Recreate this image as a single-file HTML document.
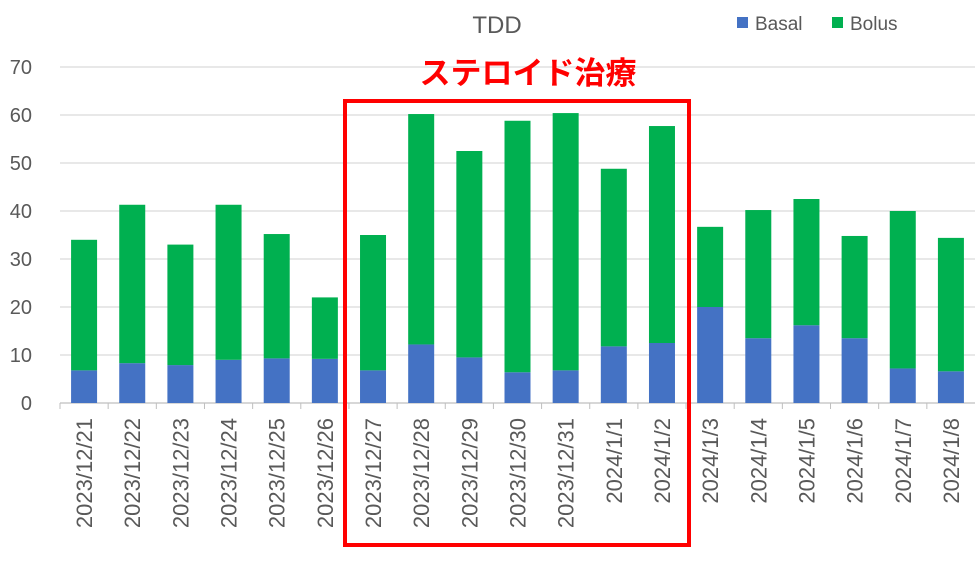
<!DOCTYPE html>
<html><head><meta charset="utf-8"><style>
body{margin:0;background:#fff;}
svg{display:block;font-family:"Liberation Sans","Noto Sans CJK JP",sans-serif;}
</style></head><body>
<svg id="chart" width="975" height="561">
<text x="497" y="33" font-size="24" fill="#595959" text-anchor="middle">TDD</text>
<g>
<rect x="737" y="17" width="11" height="11" fill="#4472c4"/>
<text x="755" y="30" font-size="19" fill="#595959">Basal</text>
<rect x="832" y="17" width="11" height="11" fill="#00b050"/>
<text x="850" y="30" font-size="19" fill="#595959">Bolus</text>
</g>
<g id="grid"></g><g id="bars"></g><g id="xl"></g>
<rect x="345" y="101" width="344" height="444" fill="none" stroke="#ff0000" stroke-width="4"/>
<text x="528" y="84" font-size="31" font-weight="bold" fill="#ff0000" text-anchor="middle">ステロイド治療</text>
</svg>
<script>
const categories=["2023/12/21","2023/12/22","2023/12/23","2023/12/24","2023/12/25","2023/12/26","2023/12/27","2023/12/28","2023/12/29","2023/12/30","2023/12/31","2024/1/1","2024/1/2","2024/1/3","2024/1/4","2024/1/5","2024/1/6","2024/1/7","2024/1/8"];
const basal=[6.8,8.3,7.9,9,9.3,9.2,6.8,12.2,9.5,6.4,6.8,11.8,12.5,20,13.5,16.2,13.5,7.2,6.6];
const total=[34,41.3,33,41.3,35.2,22,35,60.2,52.5,58.8,60.4,48.8,57.7,36.7,40.2,42.5,34.8,40,34.4];
const bolus=total.map((t,i)=>t-basal[i]);
const ticks=[0,10,20,30,40,50,60,70];
const NS="http://www.w3.org/2000/svg";
const x0=60,x1=975,y0=403,yTop=67;
const y=v=>y0-(y0-yTop)*v/70;
const step=(x1-x0)/categories.length;
const xc=i=>x0+step*(i+0.5);
function mk(t,a,p){const e=document.createElementNS(NS,t);for(const k in a)e.setAttribute(k,a[k]);p.appendChild(e);return e;}
const g=document.getElementById('grid');
ticks.forEach(t=>{
 const l=mk('line',{x1:x0,x2:x1,y1:y(t),y2:y(t),stroke:t===0?'#bfbfbf':'#d9d9d9','stroke-width':1.3},g);
 
 
 const tx=mk('text',{x:32,y:y(t)+7,'font-size':20,fill:'#595959','text-anchor':'end'},g);
 tx.textContent=t;
 
 
});
const b=document.getElementById('bars'),xl=document.getElementById('xl');
const bw=26;
categories.forEach((c,i)=>{
 const r1=mk('rect',{x:xc(i)-bw/2,y:y(basal[i]),width:bw,height:y0-y(basal[i]),fill:'#4472c4'},b);
 
 
 const r2=mk('rect',{x:xc(i)-bw/2,y:y(basal[i]+bolus[i]),width:bw,height:y(basal[i])-y(basal[i]+bolus[i]),fill:'#00b050'},b);
 
 
 const tk=mk('line',{x1:x0+step*i,x2:x0+step*i,y1:y0,y2:y0+6,stroke:'#bfbfbf'},xl);
 
 
 const t=mk('text',{x:0,y:0,'font-size':22,fill:'#595959','text-anchor':'end',transform:`translate(${xc(i)+8},${y0+15}) rotate(-90)`},xl);
 t.textContent=c;
 
 
});
</script>
</body></html>
